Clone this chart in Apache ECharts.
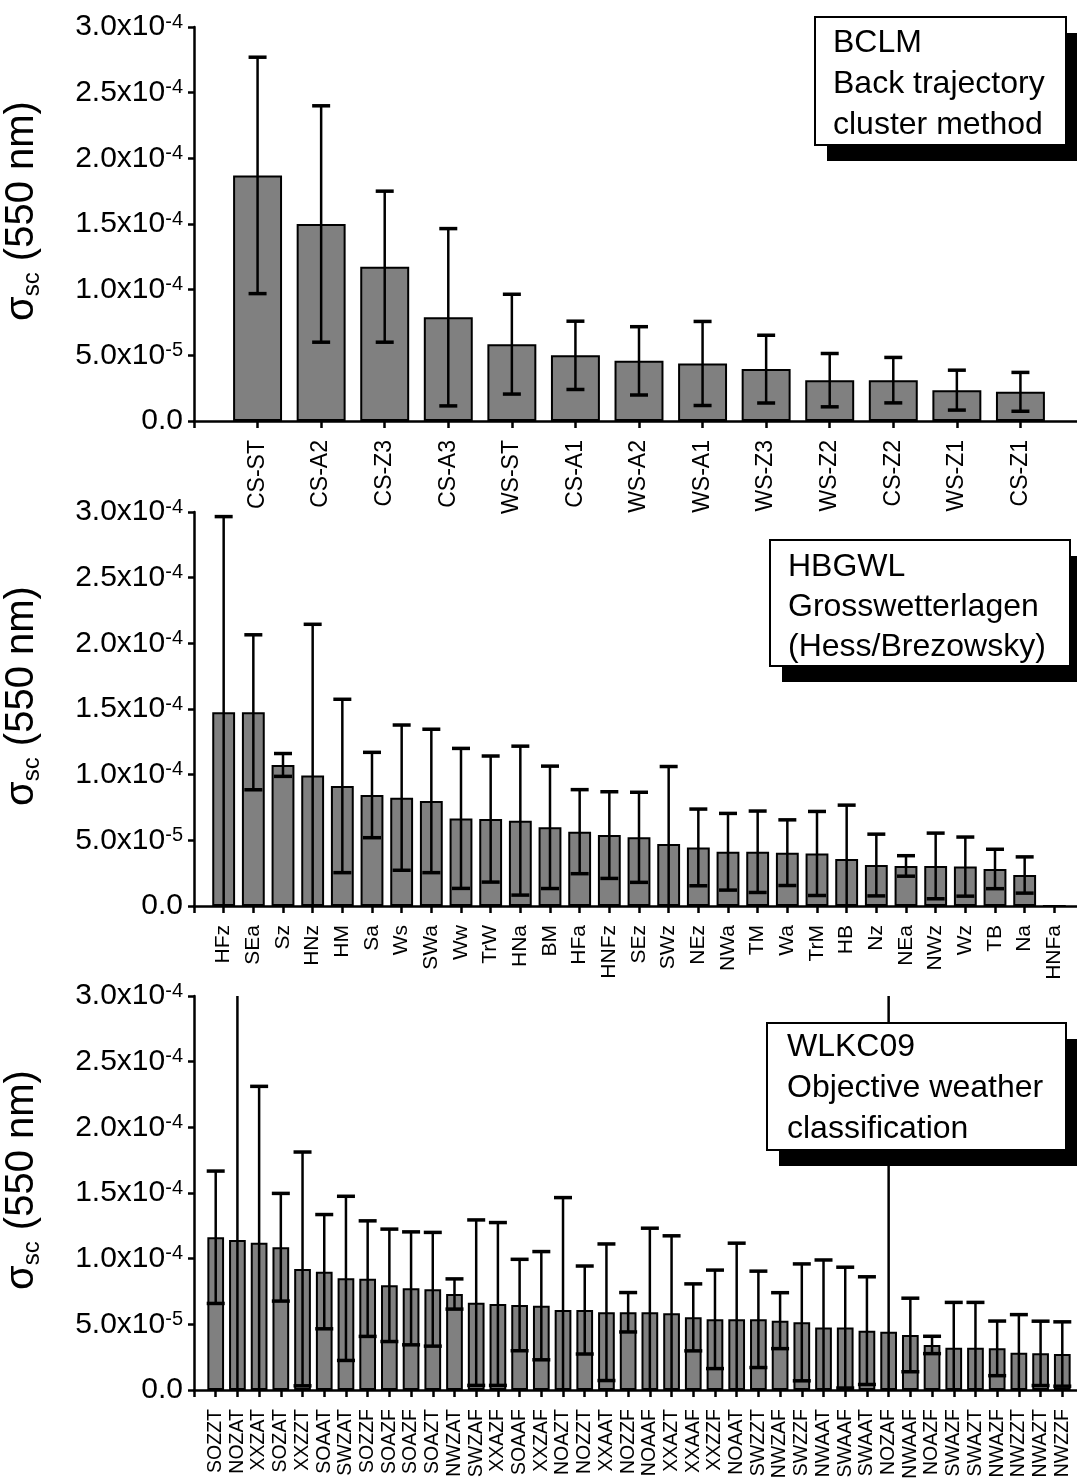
<!DOCTYPE html>
<html><head><meta charset="utf-8">
<script src="https://cdn.jsdelivr.net/npm/echarts@6/dist/echarts.min.js"></script>
<style>html,body{margin:0;padding:0;background:#fff}#c{width:1077px;height:1482px}</style>
</head><body><div id="c"></div>
<script>
// ---- Panel 1: BCLM ----
const bclmCats = ['CS-ST','CS-A2','CS-Z3','CS-A3','WS-ST','CS-A1','WS-A2','WS-A1','WS-Z3','WS-Z2','CS-Z2','WS-Z1','CS-Z1'];
const bclmMean = [1.87e-4,1.50e-4,1.175e-4,7.9e-5,5.85e-5,5.0e-5,4.58e-5,4.38e-5,3.95e-5,3.11e-5,3.11e-5,2.35e-5,2.22e-5];
const bclmSD   = [9.0e-5,9.0e-5,5.75e-5,6.75e-5,3.8e-5,2.6e-5,2.6e-5,3.2e-5,2.58e-5,2.03e-5,1.73e-5,1.52e-5,1.48e-5];
// ---- Panel 2: HBGWL ----
const hbgwlCats = ['HFz','SEa','Sz','HNz','HM','Sa','Ws','SWa','Ww','TrW','HNa','BM','HFa','HNFz','SEz','SWz','NEz','NWa','TM','Wa','TrM','HB','Nz','NEa','NWz','Wz','TB','Na','HNFa'];
const hbgwlMean = [1.475e-4,1.475e-4,1.074e-4,9.93e-5,9.14e-5,8.45e-5,8.25e-5,8.0e-5,6.67e-5,6.62e-5,6.5e-5,5.99e-5,5.66e-5,5.4e-5,5.23e-5,4.72e-5,4.46e-5,4.13e-5,4.13e-5,4.06e-5,4.0e-5,3.58e-5,3.12e-5,3.05e-5,3.05e-5,3.0e-5,2.82e-5,2.36e-5,0];
const hbgwlSD   = [1.49e-4,5.9e-5,8.7e-6,1.152e-4,6.6e-5,3.25e-5,5.53e-5,5.46e-5,5.33e-5,4.8e-5,5.67e-5,4.66e-5,3.2e-5,3.3e-5,3.43e-5,5.9e-5,2.92e-5,2.92e-5,3.1e-5,2.5e-5,3.2e-5,4.1e-5,2.35e-5,7.8e-6,2.5e-5,2.25e-5,1.5e-5,1.38e-5,0];
// ---- Panel 3: WLKC09 ----
const wlkCats = ['SOZZT','NOZAT','XXZAT','SOZAT','XXZZT','SOAAT','SWZAT','SOZZF','SOAZF','SOAZF','SOAZT','NWZAT','SWZAF','XXAZF','SOAAF','XXZAF','NOAZT','NOZZT','XXAAT','NOZZF','NOAAF','XXAZT','XXAAF','XXZZF','NOAAT','SWZZT','NWZAF','SWZZF','NWAAT','SWAAF','SWAAT','NOZAF','NWAAF','NOAZF','SWAZF','SWAZT','NWAZF','NWZZT','NWAZT','NWZZF'];
const wlkMean = [1.163e-4,1.142e-4,1.122e-4,1.087e-4,9.22e-5,9.01e-5,8.5e-5,8.48e-5,7.97e-5,7.74e-5,7.67e-5,7.31e-5,6.65e-5,6.55e-5,6.47e-5,6.42e-5,6.09e-5,6.09e-5,5.92e-5,5.92e-5,5.92e-5,5.84e-5,5.53e-5,5.38e-5,5.38e-5,5.38e-5,5.28e-5,5.15e-5,4.75e-5,4.75e-5,4.52e-5,4.44e-5,4.19e-5,3.43e-5,3.22e-5,3.22e-5,3.17e-5,2.84e-5,2.79e-5,2.74e-5];
const wlkSD   = [5.04e-5,2.0e-4,1.19e-4,4.1e-5,8.9e-5,4.35e-5,6.25e-5,4.4e-5,4.28e-5,4.3e-5,4.33e-5,1.15e-5,6.3e-5,6.2e-5,3.48e-5,4.12e-5,8.56e-5,3.35e-5,5.2e-5,1.5e-5,6.4e-5,5.9e-5,2.55e-5,3.75e-5,5.8e-5,3.67e-5,2.13e-5,4.45e-5,5.15e-5,4.6e-5,4.1e-5,2.7e-4,2.8e-5,6.6e-6,3.45e-5,3.45e-5,2.08e-5,2.9e-5,2.45e-5,2.45e-5];
// ---- Axis ticks ----
const yMin = 0, yMax = 3.0e-4, yStep = 5.0e-5;
const boxTexts = [
  'BCLM\nBack trajectory\ncluster method',
  'HBGWL\nGrosswetterlagen\n(Hess/Brezowsky)',
  'WLKC09\nObjective weather\nclassification'
];

const panels = [
  {cats: bclmCats, mean: bclmMean, sd: bclmSD, top: 27, fs: 23},
  {cats: hbgwlCats, mean: hbgwlMean, sd: hbgwlSD, top: 512, fs: 21},
  {cats: wlkCats, mean: wlkMean, sd: wlkSD, top: 996, fs: 19.5}
];
const boxes = [
  {x: 815, y: 17, w: 251, h: 128, tx: 833, ty: 23, lh: 41},
  {x: 770, y: 540, w: 300, h: 126, tx: 788, ty: 547, lh: 40},
  {x: 767, y: 1023, w: 299, h: 127, tx: 787, ty: 1027, lh: 41}
];

const FONT = "'Liberation Sans', Arial, sans-serif";

function yFmt(v) {
  if (v === 0) return '{b|0.0}';
  const e = Math.floor(Math.log10(v) + 1e-9);
  const m = v / Math.pow(10, e);
  return '{b|' + m.toFixed(1) + 'x10}{s|' + e + '}';
}

const grid = [], xAxis = [], yAxis = [], series = [], graphic = [];
panels.forEach((p, i) => {
  grid.push({left: 194, top: p.top, width: 890, height: 394, containLabel: false, outerBoundsMode: 'none'});
  xAxis.push({
    type: 'category', gridIndex: i, boundaryGap: false,
    data: [''].concat(p.cats, ['']),
    axisLine: {show: true, onZero: false, lineStyle: {color: '#000', width: 2.5}},
    axisTick: {show: true, interval: 0, length: 7, inside: false, lineStyle: {color: '#000', width: 2.5}},
    axisLabel: {interval: 0, rotate: 90, margin: 19, color: '#000', fontSize: p.fs, fontFamily: FONT},
    splitLine: {show: false}
  });
  yAxis.push({
    type: 'value', gridIndex: i, min: yMin, max: yMax, interval: yStep,
    axisLine: {show: true, lineStyle: {color: '#000', width: 2.5}},
    axisTick: {show: true, length: 6, inside: false, lineStyle: {color: '#000', width: 2.5}},
    splitLine: {show: false},
    axisLabel: {
      margin: 11, color: '#000', formatter: yFmt,
      rich: {
        b: {fontSize: 30, fontFamily: FONT, color: '#000', lineHeight: 30},
        s: {fontSize: 20, fontFamily: FONT, color: '#000', verticalAlign: 'top', lineHeight: 18}
      }
    },
    name: '{g|σ}{sub|sc}{n| (550 nm)}',
    nameLocation: 'middle', nameRotate: 90, nameGap: 150,
    nameTextStyle: {
      color: '#000', padding: [0, 0, 0, 26],
      rich: {
        g: {fontSize: 40, fontFamily: FONT, color: '#000', lineHeight: 44},
        sub: {fontSize: 24, fontFamily: FONT, color: '#000', verticalAlign: 'bottom', lineHeight: 24},
        n: {fontSize: 40, fontFamily: FONT, color: '#000', lineHeight: 44}
      }
    }
  });
  series.push({
    type: 'bar', xAxisIndex: i, yAxisIndex: i, silent: true, animation: false,
    data: ['-'].concat(p.mean, ['-']),
    barWidth: '77%',
    itemStyle: {color: '#808080', borderColor: '#000', borderWidth: 2},
    z: 2
  });
  series.push({
    type: 'custom', xAxisIndex: i, yAxisIndex: i, silent: true, animation: false, z: 3,
    encode: {x: 0, y: 1},
    data: p.mean.map((m, k) => [k + 1, m, p.sd[k]]),
    renderItem: function (params, api) {
      const x = api.value(0), m = api.value(1), s = api.value(2);
      if (!s) return null;
      const hi = m + s, lo = m - s;
      const pt = api.coord([x, Math.min(hi, yMax)]);
      const pb = api.coord([x, Math.max(lo, yMin)]);
      const ch = [{type: 'line', shape: {x1: pt[0], y1: pt[1], x2: pb[0], y2: pb[1]}, style: {stroke: '#000', lineWidth: 2.5}}];
      const hw = 9;
      if (hi <= yMax) ch.push({type: 'line', shape: {x1: pt[0] - hw, y1: pt[1], x2: pt[0] + hw, y2: pt[1]}, style: {stroke: '#000', lineWidth: 3.5}});
      if (lo >= yMin) ch.push({type: 'line', shape: {x1: pb[0] - hw, y1: pb[1], x2: pb[0] + hw, y2: pb[1]}, style: {stroke: '#000', lineWidth: 3.5}});
      return {type: 'group', children: ch};
    }
  });
  const b = boxes[i];
  graphic.push({type: 'rect', z: 100, shape: {x: b.x + 12, y: b.y + 16, width: b.w, height: b.h}, style: {fill: '#000'}});
  graphic.push({type: 'rect', z: 101, shape: {x: b.x, y: b.y, width: b.w, height: b.h}, style: {fill: '#fff', stroke: '#000', lineWidth: 2}});
  graphic.push({type: 'text', z: 102, x: b.tx, y: b.ty,
    style: {text: boxTexts[i], fontSize: 32, fontFamily: FONT, fill: '#000', lineHeight: b.lh, verticalAlign: 'top', align: 'left'}});
});

const chart = echarts.init(document.getElementById('c'), null, {renderer: 'canvas'});
chart.setOption({animation: false, backgroundColor: '#fff', grid, xAxis, yAxis, series, graphic});
</script>
</body></html>
